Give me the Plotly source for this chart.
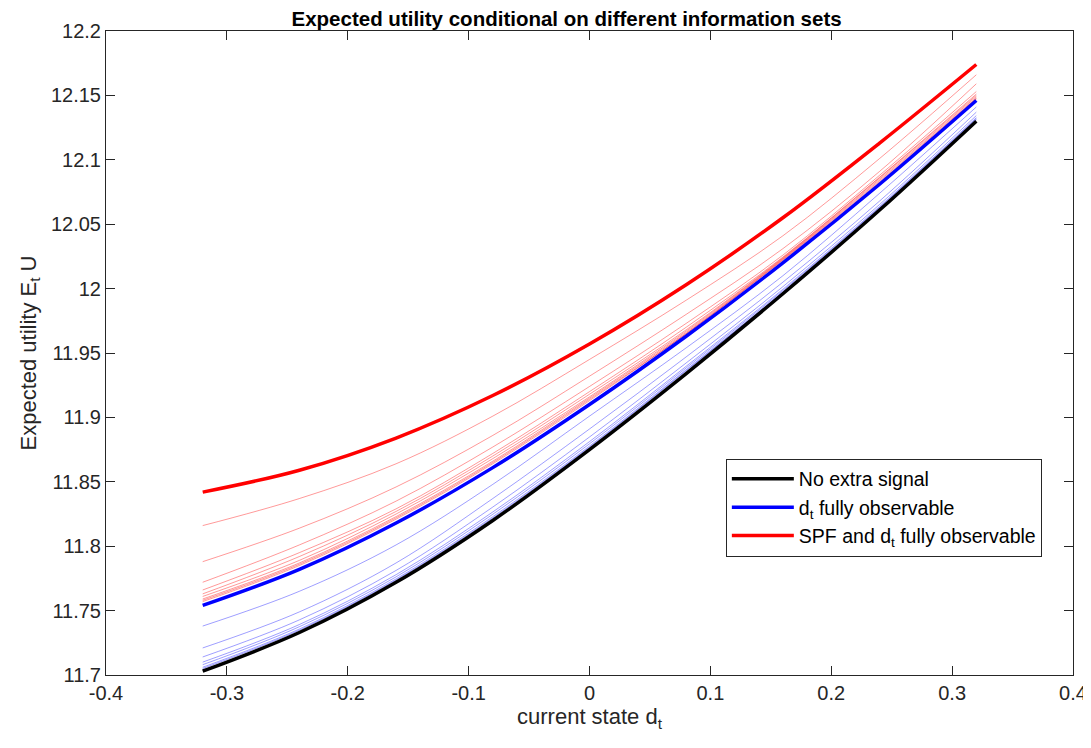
import plotly.graph_objects as go

# current state d_t (sample points)
x_vals = [-0.32, -0.24, -0.16, -0.08, 0.0, 0.08, 0.16, 0.24, 0.32]

# thick curves
no_signal = [11.703, 11.733, 11.772, 11.820, 11.875, 11.934, 11.996, 12.061, 12.130]
d_observed = [11.754, 11.782, 11.818, 11.861, 11.910, 11.963, 12.020, 12.081, 12.146]
spf_and_d = [11.842, 11.859, 11.884, 11.917, 11.957, 12.003, 12.055, 12.113, 12.174]

# thin red curves (between d observable and SPF + d)
red_thin = [
    [11.816, 11.837, 11.864, 11.901, 11.945, 11.991, 12.041, 12.101, 12.166],
    [11.788, 11.814, 11.846, 11.886, 11.932, 11.980, 12.031, 12.091, 12.159],
    [11.772, 11.801, 11.835, 11.877, 11.924, 11.973, 12.026, 12.088, 12.153],
    [11.766, 11.795, 11.829, 11.872, 11.920, 11.970, 12.0245, 12.0865, 12.151],
    [11.763, 11.792, 11.827, 11.870, 11.918, 11.968, 12.024, 12.086, 12.150],
    [11.761, 11.789, 11.825, 11.868, 11.916, 11.967, 12.0235, 12.085, 12.149],
    [11.759, 11.787, 11.823, 11.866, 11.915, 11.966, 12.023, 12.084, 12.148],
    [11.758, 11.786, 11.822, 11.865, 11.914, 11.965, 12.0225, 12.083, 12.1475],
    [11.757, 11.785, 11.821, 11.864, 11.913, 11.965, 12.022, 12.082, 12.147],
]

# thin blue curves (between no extra signal and d observable)
blue_thin = [
    [11.738, 11.765, 11.801, 11.848, 11.901, 11.954, 12.010, 12.074, 12.141],
    [11.721, 11.749, 11.787, 11.837, 11.891, 11.947, 12.005, 12.068, 12.137],
    [11.714, 11.7428, 11.7812, 11.8304, 11.8848, 11.9423, 12.0015, 12.0653, 12.1343],
    [11.710, 11.7392, 11.7779, 11.8266, 11.8812, 11.9397, 11.9995, 12.0637, 12.1327],
    [11.708, 11.7375, 11.7762, 11.8248, 11.8795, 11.9384, 11.9985, 12.063, 12.132],
    [11.706, 11.7357, 11.7746, 11.8229, 11.8777, 11.937, 11.9975, 12.0622, 12.1312],
    [11.705, 11.7348, 11.7737, 11.8219, 11.8768, 11.9363, 11.997, 12.0618, 12.1308],
]

x_ticks = [-0.4, -0.3, -0.2, -0.1, 0, 0.1, 0.2, 0.3, 0.4]
x_ticktext = ["-0.4", "-0.3", "-0.2", "-0.1", "0", "0.1", "0.2", "0.3", "0.4"]
y_ticks = [11.7, 11.75, 11.8, 11.85, 11.9, 11.95, 12.0, 12.05, 12.1, 12.15, 12.2]
y_ticktext = ["11.7", "11.75", "11.8", "11.85", "11.9", "11.95", "12", "12.05", "12.1", "12.15", "12.2"]

fig = go.Figure()

for ys in blue_thin:
    fig.add_trace(go.Scatter(x=x_vals, y=ys, mode="lines", line_shape="spline",
                             line=dict(color="rgba(0,0,255,0.38)", width=1),
                             showlegend=False, hoverinfo="skip"))
for ys in red_thin:
    fig.add_trace(go.Scatter(x=x_vals, y=ys, mode="lines", line_shape="spline",
                             line=dict(color="rgba(255,0,0,0.4)", width=1),
                             showlegend=False, hoverinfo="skip"))

fig.add_trace(go.Scatter(x=x_vals, y=no_signal, mode="lines", line_shape="spline",
                         line=dict(color="black", width=3.5), name="No extra signal"))
fig.add_trace(go.Scatter(x=x_vals, y=d_observed, mode="lines", line_shape="spline",
                         line=dict(color="#0000ff", width=3.5),
                         name="d<sub>t</sub> fully observable"))
fig.add_trace(go.Scatter(x=x_vals, y=spf_and_d, mode="lines", line_shape="spline",
                         line=dict(color="#ff0000", width=3.5),
                         name="SPF and d<sub>t</sub> fully observable"))

axis_common = dict(
    showgrid=False, zeroline=False, showline=True, mirror="ticks",
    linecolor="#262626", linewidth=1, ticks="inside", ticklen=9,
    tickcolor="#262626", tickfont=dict(size=20, color="#262626"),
)

fig.update_xaxes(range=[-0.4, 0.4], tickvals=x_ticks, ticktext=x_ticktext,
                 title=dict(text="current state d<sub>t</sub>",
                            font=dict(size=22, color="#262626"), standoff=4),
                 **axis_common)
fig.update_yaxes(range=[11.7, 12.2], tickvals=y_ticks, ticktext=y_ticktext,
                 title=dict(text="Expected utility E<sub>t</sub> U",
                            font=dict(size=22, color="#262626"), standoff=8),
                 **axis_common)

fig.update_layout(
    width=1091, height=748,
    paper_bgcolor="white", plot_bgcolor="white",
    font=dict(family="Liberation Sans, Arial, sans-serif", color="#262626"),
    title=dict(text="<b>Expected utility conditional on different information sets</b>",
               x=0.512, xanchor="center", y=0.9855, yanchor="middle",
               pad=dict(t=0, b=0),
               font=dict(size=20.5, color="black")),
    margin=dict(l=98, r=23, t=22, b=81),
    legend=dict(x=0.641, y=0.336, xanchor="left", yanchor="top",
                bgcolor="white", bordercolor="#262626", borderwidth=1,
                itemwidth=62,
                font=dict(size=19.5, color="black"), tracegroupgap=2),
)

fig.write_html("out.html")
